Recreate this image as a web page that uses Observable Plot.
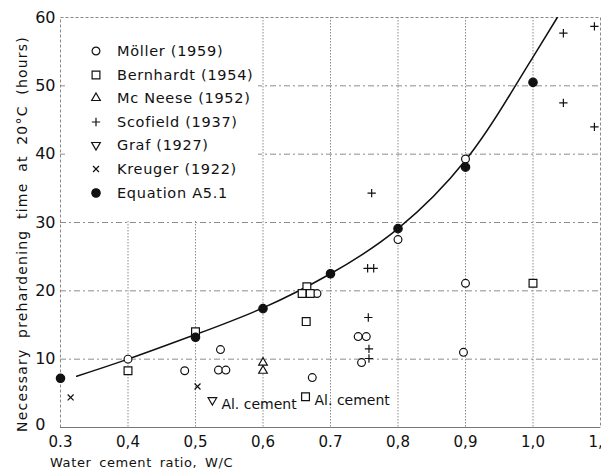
<!DOCTYPE html>
<html>
<head>
<meta charset="utf-8">
<script src="https://cdn.jsdelivr.net/npm/d3@7"></script>
<script src="https://cdn.jsdelivr.net/npm/@observablehq/plot@0.6"></script>
<style>
  body { margin: 0; background: #fff; }
  #wrap { position: relative; width: 601px; height: 475px; font-family: "DejaVu Sans", sans-serif; color: #111; overflow: hidden; }
  #legend { position: absolute; left: 65px; top: 20px; width: 193px; height: 200px; background: #fff; }
  .row { position: absolute; left: 0; height: 20px; width: 193px; }
  .row svg { position: absolute; left: 21px; top: 0; width: 20px; height: 20px; overflow: visible; }
  .row span { position: absolute; left: 52px; top: 1px; font-size: 14.5px; letter-spacing: 0.7px; white-space: nowrap; line-height: 18px; }
  #xlabel { position: absolute; left: 50px; top: 455px; font-size: 13px; letter-spacing: 0.6px; word-spacing: 3px; white-space: nowrap; }
  #ylabel { position: absolute; left: 22px; top: 234px; transform: translate(-50%, -50%) rotate(-90deg); font-size: 14px; letter-spacing: 1.2px; word-spacing: 5px; white-space: nowrap; }
</style>
</head>
<body>
<div id="wrap"></div>
<script>
// ---- data ----
const xTicks = [0.3, 0.4, 0.5, 0.6, 0.7, 0.8, 0.9, 1.0, 1.1];
const xTickLabels = ["0.3", "0,4", "0,5", "0,6", "0.7", "0,8", "0,9", "1,0", "1,1"];
const yTicks = [0, 10, 20, 30, 40, 50, 60];

const moller = [[0.4, 10], [0.484, 8.3], [0.534, 8.4], [0.545, 8.4], [0.537, 11.4], [0.673, 7.3],
  [0.68, 19.6], [0.741, 13.3], [0.753, 13.3], [0.746, 9.5], [0.8, 27.5], [0.9, 39.3], [0.9, 21.1], [0.897, 11]];
const bernhardt = [[0.4, 8.3], [0.5, 14], [0.665, 20.6], [0.658, 19.6], [0.67, 19.6], [0.664, 15.5], [0.663, 4.5], [1.0, 21.1]];
const mcNeese = [[0.6, 9.5], [0.6, 8.3]];
const scofield = [[0.755, 23.3], [0.764, 23.3], [0.761, 34.3], [0.756, 16.1], [0.757, 11.5], [0.757, 10.1],
  [1.045, 57.7], [1.045, 47.5], [1.091, 58.7], [1.091, 44]];
const graf = [[0.525, 4]];
const kreuger = [[0.315, 4.4], [0.503, 6]];
const equation = [[0.3, 7.2], [0.5, 13.2], [0.6, 17.4], [0.7, 22.5], [0.8, 29.1], [0.9, 38.1], [1.0, 50.5]];
const curve = [[0.324, 7.5], [0.4, 10], [0.5, 13.6], [0.6, 17.5], [0.7, 22.5], [0.8, 29.1], [0.9, 39.1], [0.967, 48.9], [1.0, 54.2], [1.036, 60]];
const notes = [[0.525, 4, "Al. cement"], [0.663, 4.5, "Al. cement"]];
const seriesNames = ["Möller (1959)", "Bernhardt (1954)", "Mc Neese (1952)", "Scofield (1937)", "Graf (1927)", "Kreuger (1922)", "Equation A5.1"];

// ---- symbols ----
const triangleDown = {
  draw(ctx, size) {
    const s = Math.sqrt(4 * size / Math.sqrt(3));
    const h = s * Math.sqrt(3) / 2;
    ctx.moveTo(-s / 2, -h / 3);
    ctx.lineTo(s / 2, -h / 3);
    ctx.lineTo(0, 2 * h / 3);
    ctx.closePath();
  }
};
const styles = [
  {symbol: "circle", d3s: d3.symbolCircle, fill: "white", r: 3.9},
  {symbol: "square", d3s: d3.symbolSquare, fill: "white", r: 4.4},
  {symbol: "triangle", d3s: d3.symbolTriangle, fill: "white", r: 3.2},
  {symbol: "plus", d3s: d3.symbolPlus, fill: "none", r: 2.8},
  {symbol: triangleDown, d3s: triangleDown, fill: "white", r: 3.2},
  {symbol: "times", d3s: d3.symbolTimes, fill: "none", r: 2.8},
  {symbol: "circle", d3s: d3.symbolCircle, fill: "#111", r: 4.2}
];
const seriesData = [moller, bernhardt, mcNeese, scofield, graf, kreuger, equation];

const dotMarks = seriesData.map((data, i) => Plot.dot(data, {
  x: d => d[0], y: d => d[1],
  symbol: styles[i].symbol, r: styles[i].r,
  fill: styles[i].fill, stroke: "#111", strokeWidth: 1.2
}));

const chart = Plot.plot({
  width: 601, height: 475,
  marginLeft: 60, marginRight: 1, marginTop: 17, marginBottom: 48,
  style: {fontFamily: '"DejaVu Sans", sans-serif', fontSize: "15px", color: "#111", background: "white"},
  x: {domain: [0.3, 1.1]},
  y: {domain: [0, 60]},
  marks: [
    Plot.ruleX(xTicks.slice(1, -1), {stroke: "#8c8c8c", strokeDasharray: "1.5,1.5", strokeWidth: 1}),
    Plot.ruleY(yTicks.slice(1, -1), {stroke: "#8c8c8c", strokeDasharray: "6,3,2,3", strokeWidth: 1}),
    Plot.frame({stroke: "#888", strokeDasharray: "3,2"}),
    Plot.ruleY([0], {stroke: "#777", strokeWidth: 1}),
    Plot.axisX({ticks: xTicks, tickFormat: d => xTickLabels[xTicks.indexOf(d)], tickSize: 0, tickPadding: 9, fontSize: 15, label: null}),
    Plot.axisY({ticks: yTicks.slice(1), tickSize: 0, tickPadding: 5, fontSize: 16, label: null}),
    Plot.axisY({ticks: yTicks.slice(0, 1), tickSize: 0, tickPadding: 15, fontSize: 16, dy: -3, label: null}),
    Plot.line(curve, {x: d => d[0], y: d => d[1], curve: "natural", stroke: "#111", strokeWidth: 1.5, clip: true}),
    ...dotMarks,
    Plot.text(notes, {x: d => d[0], y: d => d[1], text: d => d[2], textAnchor: "start", dx: 9, dy: 4, fontSize: 14, fill: "#111"})
  ]
});

const wrap = document.getElementById("wrap");
wrap.appendChild(chart);

// legend (overlaid on the upper-left corner of the frame)
const legend = document.createElement("div");
legend.id = "legend";
seriesNames.forEach((name, i) => {
  const row = document.createElement("div");
  row.className = "row";
  row.style.top = (31 + i * 23.6 - 10) + "px";
  const svg = d3.create("svg");
  svg.append("path")
    .attr("transform", "translate(10,10)")
    .attr("d", d3.symbol(styles[i].d3s, Math.PI * styles[i].r * styles[i].r)())
    .attr("fill", styles[i].fill).attr("stroke", "#111").attr("stroke-width", 1.2);
  row.appendChild(svg.node());
  const span = document.createElement("span");
  span.textContent = name;
  row.appendChild(span);
  legend.appendChild(row);
});
wrap.appendChild(legend);

const xl = document.createElement("div");
xl.id = "xlabel";
xl.textContent = "Water cement ratio, W/C";
wrap.appendChild(xl);
const yl = document.createElement("div");
yl.id = "ylabel";
yl.textContent = "Necessary prehardening time at 20°C (hours)";
wrap.appendChild(yl);
</script>
</body>
</html>
